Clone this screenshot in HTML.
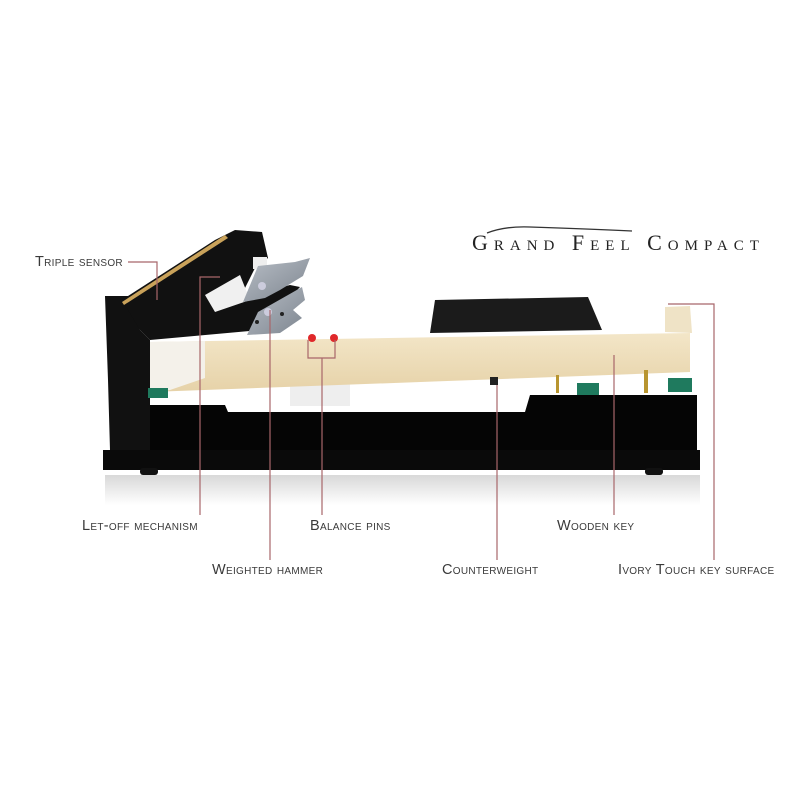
<!DOCTYPE html>
<html><head><meta charset="utf-8"><style>
html,body{margin:0;padding:0;background:#fff;}
svg{display:block}
.l{font-family:"Liberation Sans",sans-serif;font-variant:small-caps;font-size:14.5px;fill:#3a3a3a;letter-spacing:0.3px}
.t{font-family:"Liberation Serif",serif;font-variant:small-caps;font-size:22px;fill:#222;letter-spacing:6px;}
.ln{stroke:#a8666a;stroke-width:1.2;fill:none}
</style></head><body>
<svg width="800" height="800" viewBox="0 0 800 800" xmlns="http://www.w3.org/2000/svg">
<defs>
<linearGradient id="wood" x1="0" y1="0" x2="0" y2="1"><stop offset="0" stop-color="#f3e6c8"/><stop offset="1" stop-color="#e6d2a8"/></linearGradient>
<linearGradient id="refl" x1="0" y1="0" x2="0" y2="1"><stop offset="0" stop-color="#d8d8d8"/><stop offset="1" stop-color="#fff"/></linearGradient>
<linearGradient id="metal" x1="0" y1="0" x2="1" y2="1"><stop offset="0" stop-color="#b8bec6"/><stop offset="1" stop-color="#7d858f"/></linearGradient>
</defs>
<path d="M487 233 Q505 226 530 227 Q590 229 632 231" stroke="#333" stroke-width="1.3" fill="none"/>
<text class="t" x="472" y="250">Grand Feel Compact</text>
<rect x="105" y="475" width="595" height="30" fill="url(#refl)"/>
<rect x="103" y="450" width="597" height="20" fill="#0a0a0a"/>
<rect x="140" y="468" width="18" height="7" rx="3" fill="#111"/>
<rect x="645" y="468" width="18" height="7" rx="3" fill="#111"/>
<path d="M140 405 L225 405 L228 412 L525 412 L530 395 L697 395 L697 450 L140 450 Z" fill="#050505"/>
<path d="M105 296 L128 296 L140 330 L150 340 L150 450 L110 450 L108 380 Z" fill="#111"/>
<rect x="290" y="382" width="60" height="24" fill="#eee"/>
<path d="M150 342 L690 333 L690 372 L150 392 Z" fill="url(#wood)"/>
<path d="M150 342 L205 341 L205 378 L170 390 L150 392 Z" fill="#f4f1ea"/>
<path d="M665 307 L690 306 L692 333 L665 332 Z" fill="#efe3c6"/>
<path d="M435 300 L588 297 L602 330 L430 333 Z" fill="#1b1b1b"/>
<rect x="148" y="388" width="20" height="10" fill="#1f7a5e"/>
<rect x="577" y="383" width="22" height="12" fill="#1f7a5e"/>
<rect x="668" y="378" width="24" height="14" fill="#1f7a5e"/>
<rect x="556" y="375" width="3" height="18" fill="#b89530"/>
<rect x="644" y="370" width="4" height="23" fill="#b89530"/>
<rect x="490" y="377" width="8" height="8" fill="#222"/>
<circle cx="312" cy="338" r="4" fill="#e0282a"/>
<circle cx="334" cy="338" r="4" fill="#e0282a"/>
<path d="M122 300 L128 296 L215 240 L235 230 L262 232 L268 258 L255 268 L240 298 L290 285 L300 287 L260 330 L150 340 L140 330 Z" fill="#111"/>
<path d="M122 302 L225 235 L228 238 L124 305 Z" fill="#c9a25a"/>
<path d="M205 295 L240 275 L250 300 L215 312 Z" fill="#f0f0f0"/>
<rect x="253" y="257" width="14" height="12" fill="#eee"/>
<path d="M243 302 L258 266 L295 262 L310 258 L303 276 L280 290 L265 298 Z" fill="url(#metal)"/>
<path d="M247 335 L258 312 L288 295 L302 287 L305 300 L293 310 L302 318 L280 333 Z" fill="url(#metal)"/>
<circle cx="262" cy="286" r="4" fill="#ccd"/><circle cx="268" cy="312" r="4" fill="#ccd"/>
<circle cx="282" cy="314" r="2" fill="#222"/><circle cx="257" cy="322" r="2" fill="#222"/>
<path class="ln" d="M128 262 H157 V300"/>
<path class="ln" d="M220 277 H200 V515"/>
<path class="ln" d="M270 310 V560"/>
<path class="ln" d="M308 340 V358 H335 V340 M322 358 V515"/>
<path class="ln" d="M497 385 V560"/>
<path class="ln" d="M614 355 V515"/>
<path class="ln" d="M668 304 H714 V560"/>
<text class="l" x="35" y="266">Triple sensor</text>
<text class="l" x="82" y="530">Let-off mechanism</text>
<text class="l" x="310" y="530">Balance pins</text>
<text class="l" x="557" y="530">Wooden key</text>
<text class="l" x="212" y="574">Weighted hammer</text>
<text class="l" x="442" y="574">Counterweight</text>
<text class="l" x="618" y="574">Ivory Touch key surface</text>
</svg>
</body></html>
